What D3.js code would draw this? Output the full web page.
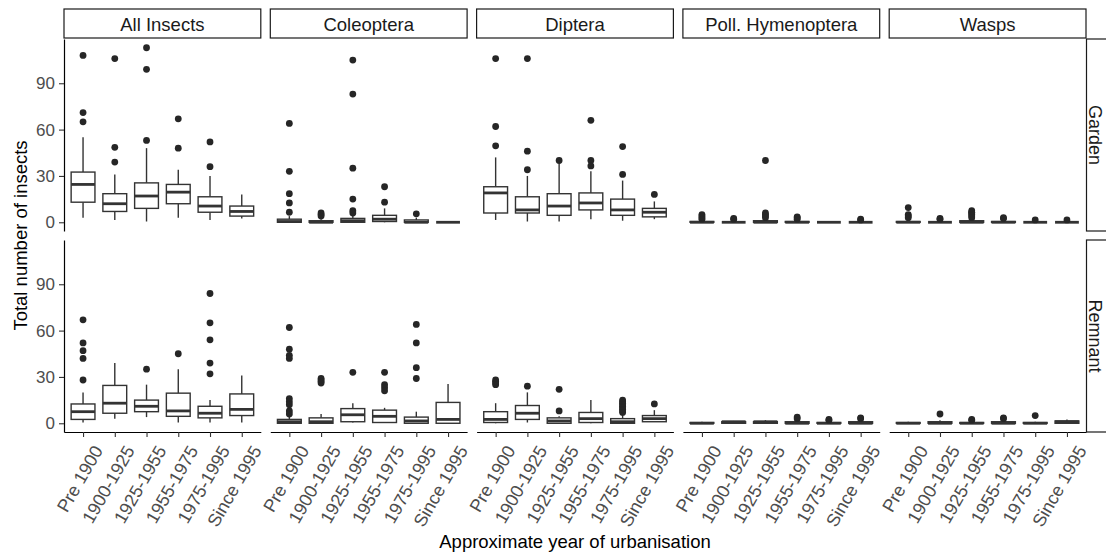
<!DOCTYPE html>
<html>
<head>
<meta charset="utf-8">
<script src="https://cdn.jsdelivr.net/npm/d3@7"></script>
<style>
  body { margin: 0; background: #fff; }
  svg { display: block; font-family: "Liberation Sans", Arial, sans-serif; }
</style>
</head>
<body>
<svg id="chart" width="1106" height="559"></svg>
<script>
const periods = ['Pre 1900', '1900-1925', '1925-1955', '1955-1975', '1975-1995', 'Since 1995']
const groups = ['All Insects', 'Coleoptera', 'Diptera', 'Poll. Hymenoptera', 'Wasps']
const habitats = ['Garden', 'Remnant']
const yTicks = [0, 30, 60, 90]

// one row per period: [lower whisker, q1, median, q3, upper whisker]
const gardenAllInsects = [[3, 13, 24.5, 32.5, 55], [1.5, 7, 12, 18.5, 31], [0.5, 9, 17, 25.5, 48], [3, 12, 19.5, 24.5, 34], [1.5, 6.5, 10.5, 16.5, 30], [2.5, 4, 7, 10.5, 18]]
const gardenColeoptera = [[0, 0, 0.5, 2, 4], [0, 0, 0, 1, 2], [0, 0, 1, 2.5, 5], [0, 0.5, 2, 4.5, 9], [0, 0, 0, 1.5, 3], [0, 0, 0, 0, 0.5]]
const gardenDiptera = [[1.5, 6, 19, 23, 42], [0.5, 6, 8, 16.5, 30], [0.5, 4.5, 10.5, 18.5, 38], [2, 8, 12.5, 19, 33], [1, 4.5, 8, 15, 27], [2, 3.5, 6.5, 9, 13.5]]
const gardenPollHym = [[0, 0, 0, 0.5, 1], [0, 0, 0, 0, 0.5], [0, 0, 0, 1, 2], [0, 0, 0, 0.5, 1], [0, 0, 0, 0, 0.5], [0, 0, 0, 0, 0.5]]
const gardenWasps = [[0, 0, 0, 0.5, 1], [0, 0, 0, 0, 0.5], [0, 0, 0, 1, 2], [0, 0, 0, 0.5, 1], [0, 0, 0, 0, 0.5], [0, 0, 0, 0, 0.5]]

const remnantAllInsects = [[0.5, 2.5, 7.5, 12.5, 20], [3, 6.5, 13, 24.5, 39], [4, 7.5, 11, 15, 25], [0.5, 4.5, 8, 19.5, 35], [0.5, 3.5, 6.5, 11, 15], [0.5, 5, 9, 19, 31]]
const remnantColeoptera = [[0, 0, 1, 2.5, 5], [0, 0, 1, 3.5, 6], [0.5, 1, 5.5, 9.5, 13], [0.5, 0.5, 4.5, 8.5, 10], [0, 0, 1.5, 4, 7.5], [0, 0, 2.5, 13.5, 25.5]]
const remnantDiptera = [[0, 0.5, 2.5, 7.5, 13], [0.5, 2.5, 6.5, 11.5, 20], [0, 0, 1.5, 3.5, 4.5], [0, 0.5, 3, 7, 15], [0, 0, 1, 3, 6], [1, 1, 3, 5, 8.5]]
const remnantPollHym = [[0, 0, 0, 0.5, 1], [0, 0, 1, 1, 1.5], [0, 0, 1, 1, 2], [0, 0, 0, 1, 1], [0, 0, 0, 0.5, 1], [0, 0, 0, 1, 1.5]]
const remnantWasps = [[0, 0, 0, 0.5, 1], [0, 0, 0, 1, 2], [0, 0, 0, 0.5, 1], [0, 0, 0, 1, 1.5], [0, 0, 0, 0.5, 1], [0, 0, 1, 1.5, 2.5]]

// outlying points per period
const gardenAllInsectsOut = [[108, 71, 65], [106, 48.5, 39], [113, 99, 53], [67, 48], [52, 36], []]
const gardenColeopteraOut = [[64, 33, 18.5, 12.5, 6.5], [6, 5, 4], [105, 83, 35, 15, 7.5, 6], [23, 13], [5.5], []]
const gardenDipteraOut = [[106, 62, 49.5], [106, 46, 34], [40], [66, 40, 36.5], [49, 31], [18]]
const gardenPollHymOut = [[5, 4, 3, 2], [2.5, 2], [40, 6, 5, 4, 3], [3.5, 3, 2], [], [2, 1.5]]
const gardenWaspsOut = [[9.5, 5, 4, 3], [2.5, 2], [7.5, 6.5, 6, 5, 4, 3], [3, 2.5], [1.5], [1.5]]

const remnantAllInsectsOut = [[67, 52, 47, 42, 28], [], [35], [45], [84, 65, 54, 39, 32], []]
const remnantColeopteraOut = [[62, 48, 44, 42, 16, 14, 12, 8, 6], [29, 28, 27, 26], [33], [33, 25, 23, 21], [64, 52, 36, 29], []]
const remnantDipteraOut = [[28, 27, 26, 25], [24], [22, 8], [], [15, 14, 13, 12, 11, 10, 9, 8, 7], [12.5]]
const remnantPollHymOut = [[], [], [], [4, 3], [2.5, 2], [3.5, 3]]
const remnantWaspsOut = [[], [6], [2.5, 2], [3.5, 3], [5], []]

const boxTable = {
    Garden: [gardenAllInsects, gardenColeoptera, gardenDiptera, gardenPollHym, gardenWasps],
    Remnant: [remnantAllInsects, remnantColeoptera, remnantDiptera, remnantPollHym, remnantWasps]
}
const outTable = {
    Garden: [gardenAllInsectsOut, gardenColeopteraOut, gardenDipteraOut, gardenPollHymOut, gardenWaspsOut],
    Remnant: [remnantAllInsectsOut, remnantColeopteraOut, remnantDipteraOut, remnantPollHymOut, remnantWaspsOut]
}

const viz = {
    left: 64,
    panelW: 196.8,
    gap: 9.5,
    rowTop: [39, 240],
    panelH: 192,
    stripTop: 9,
    stripH: 29,
    boxColor: '#333333',
    tickColor: '#4d4d4d'
}

const svg = d3.select('#chart')

const x = d3.scalePoint()
    .domain(periods)
    .range([0, viz.panelW])
    .padding(0.6)
const boxW = x.step() * 0.75

habitats.forEach((hab, r) => {
    const top = viz.rowTop[r]
    const y = d3.scaleLinear()
        .domain([-5.65, 118.65])
        .range([top + viz.panelH, top])

    groups.forEach((grp, c) => {
        const px = viz.left + c * (viz.panelW + viz.gap)
        const g = svg.append('g').attr('transform', `translate(${px},0)`)

        const rows = boxTable[hab][c].map((s, i) => ({
            period: periods[i], lo: s[0], q1: s[1], med: s[2], q3: s[3], hi: s[4],
            out: outTable[hab][c][i]
        }))

        const boxes = g.selectAll('g.box')
            .data(rows)
            .join('g')
            .attr('class', 'box')
            .attr('transform', d => `translate(${x(d.period)},0)`)

        boxes.append('line')
            .attr('y1', d => y(d.hi)).attr('y2', d => y(d.q3))
            .attr('stroke', viz.boxColor).attr('stroke-width', 1.4)
        boxes.append('line')
            .attr('y1', d => y(d.q1)).attr('y2', d => y(d.lo))
            .attr('stroke', viz.boxColor).attr('stroke-width', 1.4)
        boxes.append('rect')
            .attr('x', -boxW / 2)
            .attr('width', boxW)
            .attr('y', d => y(d.q3))
            .attr('height', d => y(d.q1) - y(d.q3))
            .attr('fill', '#fff')
            .attr('stroke', viz.boxColor)
            .attr('stroke-width', 1.4)
        boxes.append('line')
            .attr('x1', -boxW / 2).attr('x2', boxW / 2)
            .attr('y1', d => y(d.med)).attr('y2', d => y(d.med))
            .attr('stroke', viz.boxColor).attr('stroke-width', 2.8)

        boxes.selectAll('circle')
            .data(d => d.out)
            .join('circle')
            .attr('cy', d => y(d))
            .attr('r', 3.4)
            .attr('fill', '#262626')

        // left axis only on first column
        if (c === 0) {
            const ax = g.append('g')
                .call(d3.axisLeft(y).tickValues(yTicks).tickSize(5).tickSizeOuter(0).tickPadding(4))
            ax.select('.domain').attr('stroke', '#000').attr('stroke-width', 1.2)
            ax.selectAll('.tick line').attr('stroke', viz.boxColor).attr('stroke-width', 1.1)
            ax.selectAll('.tick text')
                .attr('fill', viz.tickColor)
                .attr('font-size', 17)
                .attr('font-family', '"Liberation Sans", Arial, sans-serif')
        }

        // bottom axis only on the lower row
        if (r === habitats.length - 1) {
            const ax = g.append('g')
                .attr('transform', `translate(0,${top + viz.panelH})`)
                .call(d3.axisBottom(x).tickSize(5).tickSizeOuter(0))
            ax.select('.domain').attr('stroke', '#000').attr('stroke-width', 1.2)
            ax.selectAll('.tick line').attr('stroke', viz.boxColor).attr('stroke-width', 1.1)
            ax.selectAll('.tick text')
                .attr('fill', viz.tickColor)
                .attr('font-size', 18)
                .attr('font-family', '"Liberation Sans", Arial, sans-serif')
                .attr('text-anchor', 'end')
                .attr('x', 0).attr('y', 0)
                .attr('dy', '0.7em')
                .attr('transform', 'translate(9,12) rotate(-60)')
        }

        // column strip
        if (r === 0) {
            g.append('rect')
                .attr('x', 0).attr('y', viz.stripTop)
                .attr('width', viz.panelW).attr('height', viz.stripH)
                .attr('fill', '#fff').attr('stroke', '#1a1a1a').attr('stroke-width', 1.2)
            g.append('text')
                .attr('x', viz.panelW / 2).attr('y', viz.stripTop + 21.5)
                .attr('text-anchor', 'middle')
                .attr('font-size', 18.5)
                .attr('fill', '#1a1a1a')
                .text(grp)
        }
    })

    // row strip on the right, clipped by the page edge as in the original
    const sx = viz.left + groups.length * viz.panelW + (groups.length - 1) * viz.gap
    svg.append('rect')
        .attr('x', sx + 0.5).attr('y', top)
        .attr('width', viz.stripH).attr('height', viz.panelH)
        .attr('fill', '#fff').attr('stroke', '#1a1a1a').attr('stroke-width', 1.2)
    svg.append('text')
        .attr('transform', `translate(${sx + 3},${top + viz.panelH / 2}) rotate(90)`)
        .attr('text-anchor', 'middle')
        .attr('font-size', 18)
        .attr('fill', '#1a1a1a')
        .text(hab)
})

svg.append('text')
    .attr('transform', `translate(27,${(viz.rowTop[0] + viz.rowTop[1] + viz.panelH) / 2}) rotate(-90)`)
    .attr('text-anchor', 'middle')
    .attr('font-size', 18.5)
    .attr('fill', '#000')
    .text('Total number of insects')

svg.append('text')
    .attr('x', viz.left + (groups.length * viz.panelW + (groups.length - 1) * viz.gap) / 2)
    .attr('y', 548)
    .attr('text-anchor', 'middle')
    .attr('font-size', 18.5)
    .attr('fill', '#000')
    .text('Approximate year of urbanisation')
</script>
</body>
</html>
